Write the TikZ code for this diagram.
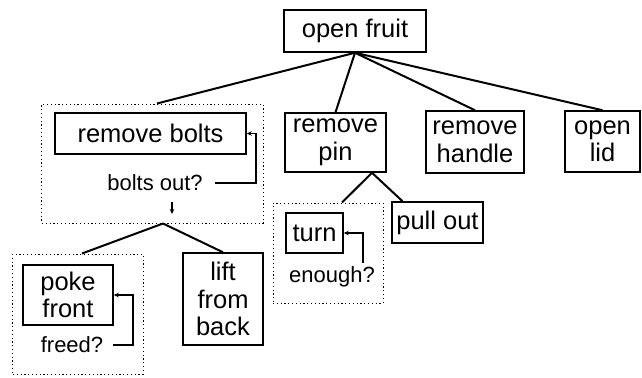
\documentclass[tikz,border=0pt]{standalone}
\usepackage{fontspec}
\setmainfont{Liberation Sans}
\usetikzlibrary{arrows.meta}
\begin{document}
\begin{tikzpicture}[x=1bp,y=-1bp,
  box/.style={draw,line width=1.5bp,inner sep=0pt,align=center,font=\fontsize{25.5bp}{27.5bp}\selectfont},
  grp/.style={draw,line width=1bp,dash pattern=on 1.2bp off 2.6bp,inner sep=0pt},
  qtext/.style={inner sep=0pt,font=\fontsize{22bp}{24bp}\selectfont},
  tree/.style={line width=2bp},
  loop/.style={line width=1.1bp,-{Stealth[length=5bp,width=4.5bp]}}]
\useasboundingbox (0,0) rectangle (642,377);
% nodes
\node[box,minimum width=142bp,minimum height=42bp] (fruit) at (355,31) {open fruit};
\node[grp,minimum width=221bp,minimum height=119bp] (boltsgrp) at (152.5,163.5) {};
\node[box,minimum width=191bp,minimum height=41bp] (bolts) at (150.5,133.5) {remove bolts};
\node[qtext] (boltsq) at (155,183) {bolts out?};
\node[box,minimum width=101bp,minimum height=59bp] (pin) at (335.5,142.5) {remove\\pin};
\node[box,minimum width=98bp,minimum height=62bp] (handle) at (475,142) {remove\\handle};
\node[box,minimum width=75bp,minimum height=61bp] (lid) at (602.5,141.5) {open\\lid};
\node[grp,minimum width=130bp,minimum height=120bp] (pokegrp) at (78,314) {};
\node[box,minimum width=90bp,minimum height=60bp] (poke) at (68,295) {poke\\front};
\node[qtext] (freed) at (72,345) {freed?};
\node[box,minimum width=80bp,minimum height=92bp] (lift) at (223,299) {lift\\from\\back};
\node[grp,minimum width=110bp,minimum height=100bp] (turngrp) at (328,253) {};
\node[box,minimum width=57bp,minimum height=40bp] (turn) at (314.5,233) {turn};
\node[qtext] (enough) at (332,277) {enough?};
\node[box,minimum width=91bp,minimum height=41bp] (pullout) at (437.5,222.5) {pull out};
% coordinates
\coordinate (bq1) at (256,183);
\coordinate (fq1) at (133,345);
\coordinate (eq0) at (363,263);
\coordinate (da0) at (172,202);
\coordinate (da1) at (172,214);
% tree lines
\draw[tree] (fruit.south) -- ([xshift=4.5bp]boltsgrp.north);
\draw[tree] (fruit.south) -- (pin.north);
\draw[tree] (fruit.south) -- (handle.north);
\draw[tree] (fruit.south) -- (lid.north);
\draw[tree] ([xshift=10.5bp]boltsgrp.south) -- ([xshift=4bp]pokegrp.north);
\draw[tree] ([xshift=10.5bp]boltsgrp.south) -- (lift.north);
\draw[tree] ([xshift=36.5bp]pin.south) -- ([xshift=14bp]turngrp.north);
\draw[tree] ([xshift=36.5bp]pin.south) -- ([xshift=-35bp]pullout.north);
% loops
\draw[loop] ([xshift=12bp]boltsq.east) -- (bq1) |- (bolts.east);
\draw[loop] ([xshift=10bp]freed.east) -- (fq1) |- (poke.east);
\draw[loop] (eq0) |- (turn.east);
\draw[loop] (da0) -- (da1);
\end{tikzpicture}
\end{document}
